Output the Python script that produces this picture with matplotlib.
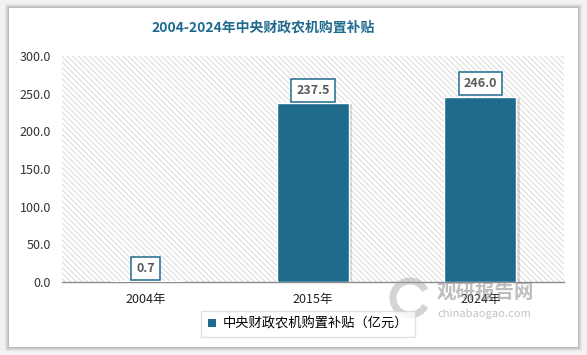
import matplotlib.pyplot as plt
from matplotlib.patches import Rectangle, Patch, Arc

plt.rcParams['font.family'] = ['Noto Sans CJK SC', 'DejaVu Sans']
plt.rcParams['hatch.linewidth'] = 0.6

years = ['2004年', '2015年', '2024年']
subsidy = [0.7, 237.5, 246.0]
title = '2004-2024年中央财政农机购置补贴'
series_name = '中央财政农机购置补贴（亿元）'
yticks = [0, 50, 100, 150, 200, 250, 300]

teal = '#1f6b8e'
W, H = 587, 355

fig = plt.figure(figsize=(W / 100, H / 100), dpi=100, facecolor='#f2f2f2')

# soft shadow around the white card
for i, a in enumerate([0.05, 0.05, 0.06, 0.08]):
    d = 4 - i
    fig.patches.append(Rectangle(((9 - d) / W, 1 - (347 + d) / H), (569 + 2 * d) / W, (339 + 2 * d) / H,
                                 transform=fig.transFigure, facecolor='black', alpha=a, edgecolor='none', zorder=0))
fig.patches.append(Rectangle((9 / W, 1 - 347 / H), 569 / W, 339 / H, transform=fig.transFigure,
                             facecolor='white', edgecolor='none', zorder=1))

ax = fig.add_axes([62 / W, 1 - 282 / H, 502 / W, 226 / H])
ax.set_zorder(2)
ax.patch.set_facecolor('white')
ax.patch.set_hatch('\\\\\\\\\\\\')
ax.patch.set_edgecolor('#d4d4d4')
ax.patch.set_linewidth(0)

x = list(range(len(years)))
# bar shadow
ax.bar([i + 0.02 for i in x], subsidy, width=0.43, bottom=-1.5, color='black', alpha=0.12, zorder=2)
bars = ax.bar(x, subsidy, width=0.43, color=teal, edgecolor='white', linewidth=1, zorder=3)

for i, v in enumerate(subsidy):
    ax.annotate(f'{v:.1f}', (i, v), xytext=(0, 4.5), textcoords='offset points', ha='center', va='bottom',
                fontsize=9, fontweight='bold', color='#595959', zorder=5,
                bbox=dict(boxstyle='square,pad=0.4', facecolor='white', edgecolor=teal, linewidth=1.1))

ax.set_xlim(-0.5, 2.5)
ax.set_ylim(0, 300)
ax.set_yticks(yticks)
ax.set_yticklabels([f'{t:.1f}' for t in yticks], fontsize=9, color='#333333')
ax.set_xticks(x)
ax.set_xticklabels(years, fontsize=9, color='#222222')
ax.tick_params(axis='both', length=0)
ax.tick_params(axis='x', pad=8)
ax.tick_params(axis='y', pad=8)
for s in ['top', 'right', 'left']:
    ax.spines[s].set_visible(False)
ax.spines['bottom'].set_color('#8c8c8c')
ax.spines['bottom'].set_linewidth(1)

fig.text(263 / W, 1 - 28 / H, title, ha='center', va='center', fontsize=10, fontweight='bold', color=teal, zorder=5)

# watermark
fig.patches.append(Arc((410 / W, 1 - 298 / H), 34 / W, 34 / H, theta1=40, theta2=320, transform=fig.transFigure,
                       color='#a0a0a0', alpha=0.45, linewidth=5, zorder=6))
fig.text(485 / W, 1 - 292 / H, '观研报告网', ha='center', va='center', fontsize=14, fontweight='bold',
         color='#8a8a8a', alpha=0.55, zorder=6)
fig.text(484 / W, 1 - 314 / H, 'chinabaogao.com', ha='center', va='center', fontsize=8,
         color='#9a9a9a', alpha=0.6, zorder=6)

leg = fig.legend(handles=[Patch(facecolor=teal, label=series_name)], loc='center',
                 bbox_to_anchor=(308 / W, 1 - 324 / H), frameon=True, fancybox=False, fontsize=9.5,
                 handlelength=0.6, handleheight=0.6, handletextpad=0.5, borderpad=0.5)
leg.get_frame().set_edgecolor('#d9d9d9')
leg.get_frame().set_linewidth(1)
leg.set_zorder(6)

fig.savefig('out.png', dpi=100, facecolor=fig.get_facecolor())
